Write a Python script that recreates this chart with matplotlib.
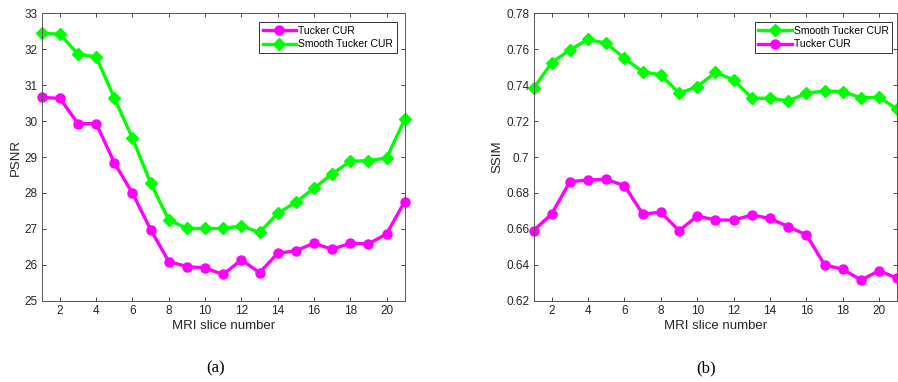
import matplotlib.pyplot as plt

plt.rcParams['font.family'] = ['Liberation Sans', 'DejaVu Sans']

slices = list(range(1, 22))

psnr_tucker = [30.66, 30.63, 29.93, 29.93, 28.84, 27.99, 26.98, 26.09, 25.95, 25.91, 25.73,
               26.14, 25.78, 26.32, 26.39, 26.60, 26.43, 26.60, 26.58, 26.86, 27.76]
psnr_smooth = [32.44, 32.42, 31.86, 31.79, 30.64, 29.52, 28.27, 27.25, 27.01, 27.01, 27.01,
               27.08, 26.90, 27.43, 27.74, 28.13, 28.53, 28.88, 28.90, 28.97, 30.05]

ssim_smooth = [0.7382, 0.7525, 0.7596, 0.7655, 0.7633, 0.7549, 0.7475, 0.7457, 0.7355, 0.7392, 0.7471,
               0.7429, 0.7327, 0.7327, 0.7312, 0.7355, 0.7368, 0.7364, 0.7330, 0.7332, 0.7265]
ssim_tucker = [0.6590, 0.6683, 0.6863, 0.6872, 0.6876, 0.6840, 0.6683, 0.6692, 0.6590, 0.6671, 0.6649,
               0.6649, 0.6677, 0.6658, 0.6612, 0.6566, 0.6399, 0.6375, 0.6315, 0.6367, 0.6324]

magenta = '#ff00ff'
green = '#00ff00'
edge = '#262626'

fig = plt.figure(figsize=(8.98, 3.82), dpi=100)
ax1 = fig.add_axes([0.0465, 0.2128, 0.4042, 0.7524])
ax2 = fig.add_axes([0.5941, 0.2128, 0.4053, 0.7524])


def style(ax):
    ax.set_xlim(1, 21)
    ax.set_xticks(range(2, 21, 2))
    ax.tick_params(direction='in', top=True, right=True, length=3, width=0.6,
                   labelsize=8.5, colors=edge, pad=3)
    for s in ax.spines.values():
        s.set_color('#555555')
        s.set_linewidth(0.7)
    ax.set_xlabel('MRI slice number', fontsize=9.5, color=edge, labelpad=2)


def add_legend(ax, x):
    leg = ax.legend(loc='upper right', fontsize=7.5, handlelength=3.2, handletextpad=0.2,
                    borderpad=0.35, labelspacing=0.35, fancybox=False, framealpha=1,
                    edgecolor='#333333', borderaxespad=0, bbox_to_anchor=(x, 0.969))
    leg.get_frame().set_linewidth(0.7)


# (a) PSNR
ax1.plot(slices, psnr_tucker, color=magenta, lw=2.4, marker='o', ms=6.5, label='Tucker CUR')
ax1.plot(slices, psnr_smooth, color=green, lw=2.4, marker='D', ms=6, label='Smooth Tucker CUR')
style(ax1)
ax1.set_ylim(25, 33)
ax1.set_yticks(range(25, 34))
ax1.set_ylabel('PSNR', fontsize=9.5, color=edge, labelpad=2)
add_legend(ax1, 0.978)

# (b) SSIM
ax2.plot(slices, ssim_smooth, color=green, lw=2.4, marker='D', ms=6, label='Smooth Tucker CUR')
ax2.plot(slices, ssim_tucker, color=magenta, lw=2.4, marker='o', ms=6.5, label='Tucker CUR')
style(ax2)
ax2.set_ylim(0.62, 0.78)
ax2.set_yticks([0.62, 0.64, 0.66, 0.68, 0.70, 0.72, 0.74, 0.76, 0.78])
ax2.set_yticklabels(['0.62', '0.64', '0.66', '0.68', '0.7', '0.72', '0.74', '0.76', '0.78'])
ax2.set_ylabel('SSIM', fontsize=9.5, color=edge, labelpad=2)
add_legend(ax2, 0.986)

for a in (ax1, ax2):
    for line in a.get_lines():
        line.set_clip_on(False)

fig.text(0.2395, 0.036, '(a)', family='Liberation Serif', fontsize=12, ha='center', va='center')
fig.text(0.786, 0.036, '(b)', family='Liberation Serif', fontsize=12, ha='center', va='center')

fig.savefig('out.png', dpi=100)
